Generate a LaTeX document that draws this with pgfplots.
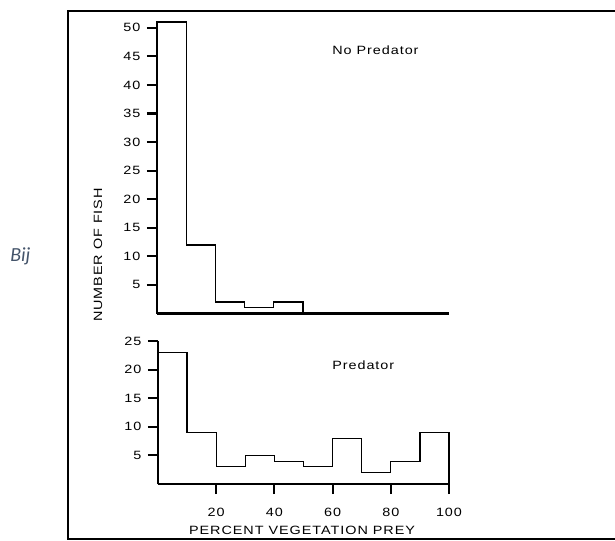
\documentclass[border=0pt]{standalone}
\usepackage{fontspec}
\setmainfont{Liberation Sans}
\newfontfamily\figfont[FakeStretch=1.2,LetterSpace=8]{Liberation Sans}
\newfontfamily\capfont{Carlito}
\usepackage{pgfplots}
\pgfplotsset{compat=1.18}
\definecolor{captionblue}{HTML}{44546A}
\newcommand{\px}[2]{({(#1)*0.75pt},{-(#2)*0.75pt})}
\newcommand{\ff}{\figfont\fontsize{9}{11}\selectfont}
\begin{document}
\begin{tikzpicture}
\path[use as bounding box] \px{0}{0} rectangle \px{615}{540};
% frame
\draw[line width=1.5pt] \px{620}{11} -- \px{68}{11} -- \px{68}{539} -- \px{620}{539};
\pgfplotsset{
  hist/.style={
    scale only axis,
    anchor=south west,
    xmin=0, xmax=100, ymin=0,
    axis x line*=bottom, axis y line*=left,
    axis line style={line width=2.2pt,-},
    tick align=outside,
    major tick length=7.5pt,
    every tick/.style={line width=1.6pt,black},
    minor tick num=0,
    /pgf/number format/assume math mode=true,
    tick label style={font=\ff},
    xticklabel style={yshift=-7pt},
    yticklabel style={xshift=-1.5pt},
    clip=false,
  },
  histline/.style={const plot, black, line width=0.9pt, mark=none},
}
% top: no predator
\begin{axis}[hist, at={(117.75pt,-235.125pt)}, width=219pt, height=218.6pt,
  ymax=51, ytick={5,10,...,50}, xtick=\empty]
\addplot[histline] coordinates {(0,0) (0,51) (10,12) (20,2) (30,1) (40,2) (50,0) (100,0)};
\end{axis}
% bottom: predator
\begin{axis}[hist, at={(118.5pt,-363pt)}, width=218.25pt, height=107.25pt,
  ymax=25, ytick={5,10,...,25}, xtick={20,40,60,80,100}]
\addplot[histline] coordinates {(0,0) (0,23) (10,9) (20,3) (30,5) (40,4) (50,3) (60,8) (70,2) (80,4) (90,9) (100,9) (100,0)};
\end{axis}
% texts
\node[anchor=base west, inner sep=0pt, font=\ff] at \px{332}{54.3} {No Predator};
\node[anchor=base west, inner sep=0pt, font=\ff] at \px{332}{369.3} {Predator};
\node[anchor=base, inner sep=0pt, font=\ff] at \px{302}{534} {PERCENT VEGETATION PREY};
\node[rotate=90, anchor=center, inner sep=0pt, font=\ff] at \px{98}{255} {NUMBER OF FISH};
\node[anchor=base west, inner sep=0pt, text=captionblue, font=\capfont\itshape\fontsize{15}{18}\selectfont] at \px{10}{261} {Bij};
\end{tikzpicture}
\end{document}
